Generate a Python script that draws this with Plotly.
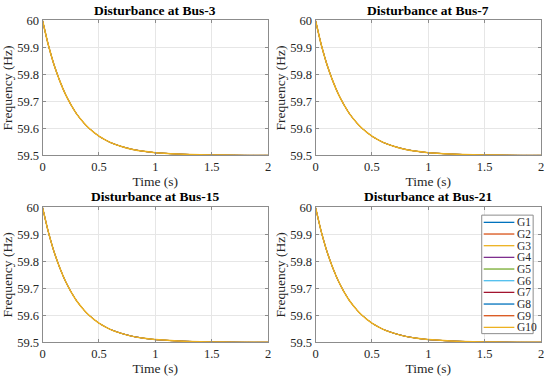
import plotly.graph_objects as go
from plotly.subplots import make_subplots

W, H = 550, 384

# ---- data ----
time_s = [0.0, 0.05, 0.1, 0.15, 0.2, 0.25, 0.3, 0.35, 0.4, 0.5, 0.6, 0.7,
          0.8, 0.9, 1.0, 1.2, 1.4, 1.6, 1.8, 2.0]
freq_bus3 = [60.000, 59.911, 59.838, 59.779, 59.729, 59.689, 59.655, 59.628,
             59.605, 59.571, 59.548, 59.533, 59.522, 59.515, 59.510, 59.505,
             59.502, 59.501, 59.500, 59.500]
freq_bus7 = [60.000, 59.911, 59.838, 59.779, 59.729, 59.689, 59.655, 59.628,
             59.605, 59.571, 59.548, 59.533, 59.522, 59.515, 59.510, 59.505,
             59.502, 59.501, 59.500, 59.500]
freq_bus15 = [60.000, 59.911, 59.838, 59.779, 59.729, 59.689, 59.655, 59.628,
              59.605, 59.571, 59.548, 59.533, 59.522, 59.515, 59.510, 59.505,
              59.502, 59.501, 59.500, 59.500]
freq_bus21 = [60.000, 59.911, 59.838, 59.779, 59.729, 59.689, 59.655, 59.628,
              59.605, 59.571, 59.548, 59.533, 59.522, 59.515, 59.510, 59.505,
              59.502, 59.501, 59.500, 59.500]
panel_titles = ["Disturbance at Bus-3", "Disturbance at Bus-7",
                "Disturbance at Bus-15", "Disturbance at Bus-21"]
panel_data = [freq_bus3, freq_bus7, freq_bus15, freq_bus21]
generators = ["G1", "G2", "G3", "G4", "G5", "G6", "G7", "G8", "G9", "G10"]
gen_colors = ["#0072BD", "#D95319", "#EDB120", "#7E2F8E", "#77AC30",
              "#4DBEEE", "#A2142F", "#0072BD", "#D95319", "#EDB120"]
x_tickvals = [0, 0.5, 1, 1.5, 2]
x_ticktext = ["0", "0.5", "1", "1.5", "2"]
y_tickvals = [59.5, 59.6, 59.7, 59.8, 59.9, 60.0]
y_ticktext = ["59.5", "59.6", "59.7", "59.8", "59.9", "60"]

FONT = "Liberation Serif, Times New Roman, serif"
AXC = "#8c8c8c"
TXT = "#262626"

def px(x):
    return x / W

def py(y):
    return 1 - y / H

# plot-area pixel boxes (left, right, top, bottom)
boxes = [(40, 268, 14, 154), (316, 544, 14, 154),
         (40, 268, 208, 348), (316, 544, 208, 348)]

fig = make_subplots(rows=2, cols=2)

n_gen = len(generators)
for k, (vals, title) in enumerate(zip(panel_data, panel_titles)):
    r, c = k // 2 + 1, k % 2 + 1
    for i, (g, col) in enumerate(zip(generators, gen_colors)):
        lw = 1.5 if i == n_gen - 1 else 0.5
        fig.add_trace(go.Scatter(x=time_s, y=vals, mode="lines", name=g,
                                 line=dict(color=col, width=lw, shape="spline", smoothing=0.6),
                                 showlegend=False), row=r, col=c)
    l, rr, t, b = boxes[k]
    axn = "" if k == 0 else str(k + 1)
    fig.layout["xaxis" + axn].update(domain=[px(l), px(rr)])
    fig.layout["yaxis" + axn].update(domain=[py(b), py(t)])
    fig.add_annotation(x=px((l + rr) / 2), y=py(t - 1), xref="paper", yref="paper",
                       text="<b>" + title + "</b>", showarrow=False,
                       xanchor="center", yanchor="bottom",
                       font=dict(family=FONT, size=13.5, color="#000000"))

fig.update_xaxes(range=[0, 2], tickvals=x_tickvals, ticktext=x_ticktext,
                 showline=True, linecolor=AXC, linewidth=1, mirror="ticks",
                 ticks="inside", ticklen=3, tickcolor=AXC,
                 showgrid=True, gridcolor="#e6e6e6", gridwidth=1, zeroline=False,
                 tickfont=dict(family=FONT, size=12.5, color=TXT),
                 title=dict(text="Time (s)", font=dict(family=FONT, size=13.5, color=TXT), standoff=3))
fig.update_yaxes(range=[59.5, 60], tickvals=y_tickvals, ticktext=y_ticktext,
                 showline=True, linecolor=AXC, linewidth=1, mirror="ticks",
                 ticks="inside", ticklen=3, tickcolor=AXC,
                 showgrid=True, gridcolor="#e6e6e6", gridwidth=1, zeroline=False,
                 tickfont=dict(family=FONT, size=12.5, color=TXT),
                 title=dict(text="Frequency (Hz)", font=dict(family=FONT, size=13.5, color=TXT), standoff=1))

# manual legend (MATLAB-like compact box)
lg_l, lg_r, lg_t, lg_b = 484, 536, 216, 339
fig.add_shape(type="rect", xref="paper", yref="paper",
              x0=px(lg_l), x1=px(lg_r), y0=py(lg_b), y1=py(lg_t),
              fillcolor="white", line=dict(color=AXC, width=1), layer="above")
step = (lg_b - lg_t - 14) / (len(generators) - 1)
for i, (g, col) in enumerate(zip(generators, gen_colors)):
    yy = lg_t + 7.5 + i * step
    fig.add_shape(type="line", xref="paper", yref="paper",
                  x0=px(486), x1=px(517), y0=py(yy), y1=py(yy),
                  line=dict(color=col, width=1.3), layer="above")
    fig.add_annotation(x=px(517.5), y=py(yy), xref="paper", yref="paper",
                       text=g, showarrow=False, xanchor="left", yanchor="middle",
                       font=dict(family=FONT, size=11.5, color=TXT))

fig.update_layout(width=W, height=H, margin=dict(l=0, r=0, t=0, b=0),
                  paper_bgcolor="white", plot_bgcolor="white", showlegend=False)

fig.write_html("out.html", config={"displayModeBar": False},
               post_script="document.body.style.margin='0px';document.body.style.padding='0px';")
